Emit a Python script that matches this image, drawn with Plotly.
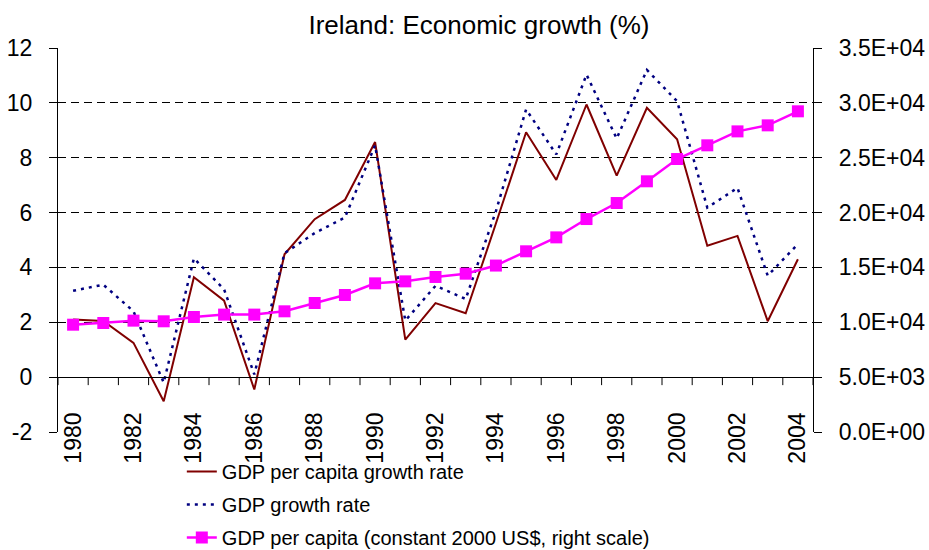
import plotly.graph_objects as go

years = list(range(1980, 2005))
gdp_pc_growth = [2.1, 2.05, 1.25, -0.88, 3.64, 2.79, -0.45, 4.48, 5.76, 6.46, 8.57, 1.37, 2.70,
                 2.33, 5.6, 8.93, 7.19, 9.94, 7.35, 9.82, 8.67, 4.79, 5.15, 2.04, 4.30]
gdp_growth = [3.15, 3.37, 2.4, -0.2, 4.33, 3.2, 0.1, 4.52, 5.25, 5.82, 8.45, 2.06, 3.33,
              2.85, 6.05, 9.76, 8.12, 11.03, 8.7, 11.2, 10.06, 6.18, 6.9, 3.7, 4.85]
gdp_pc = [9780, 9935, 10150, 10090, 10480, 10700, 10700, 11000, 11760, 12490, 13550, 13730,
          14130, 14430, 15170, 16470, 17740, 19410, 20870, 22850, 24880, 26130, 27400, 27950, 29230]

x_tick_vals = list(range(1980, 2005, 2))
x_tick_text = [str(v) for v in x_tick_vals]
# category boundaries (tick marks between years)
x_boundaries = [y - 0.5 for y in years] + [years[-1] + 0.5]
x_range = [years[0] - 0.5, years[-1] + 0.5]
left_tick_vals = [-2, 0, 2, 4, 6, 8, 10, 12]
left_tick_text = ["-2", "0", "2", "4", "6", "8", "10", "12"]
right_tick_vals = [0, 5000, 10000, 15000, 20000, 25000, 30000, 35000]
right_tick_text = ["0.0E+00", "5.0E+03", "1.0E+04", "1.5E+04", "2.0E+04", "2.5E+04", "3.0E+04", "3.5E+04"]

FONT = "Arial, 'Liberation Sans', sans-serif"

fig = go.Figure()
fig.add_trace(go.Scatter(x=years, y=gdp_pc_growth, name="GDP per capita growth rate",
                         mode="lines", line=dict(color="#800000", width=2),
                         legendgroup="a"))
fig.add_trace(go.Scatter(x=years, y=gdp_growth, name="GDP growth rate",
                         mode="lines", line=dict(color="#000080", width=2.5, dash="3px,5px"),
                         legendgroup="b"))
fig.add_trace(go.Scatter(x=years, y=gdp_pc, name="GDP per capita (constant 2000 US$, right scale)",
                         mode="lines+markers", yaxis="y2",
                         line=dict(color="#FF00FF", width=2.5),
                         marker=dict(symbol="square", size=12, color="#FF00FF"),
                         legendgroup="c"))

# category-boundary tick marks hanging below the x axis line (at y = 0)
for b in x_boundaries:
    fig.add_shape(type="line", xref="x", yref="y", x0=b, x1=b,
                  ysizemode="pixel", yanchor=0, y0=0, y1=-8,
                  line=dict(color="black", width=1), layer="above")

fig.update_layout(
    width=929, height=550,
    margin=dict(l=58, r=116, t=48, b=118, autoexpand=False),
    paper_bgcolor="white", plot_bgcolor="white",
    font=dict(family=FONT, color="black", size=20),
    title=dict(text="Ireland: Economic growth (%)", x=479/929, xanchor="center",
               y=1 - 25/550, yanchor="middle", font=dict(size=26, family=FONT, color="black")),
    showlegend=True,
    legend=dict(x=0.164, xanchor="left", y=-0.052, yanchor="top", orientation="v",
                font=dict(size=20, family=FONT, color="black"), bgcolor="rgba(0,0,0,0)",
                tracegroupgap=4, traceorder="grouped"),
    xaxis=dict(range=x_range, anchor="free", position=2/14, automargin=False,
               showline=True, linecolor="black", linewidth=1.3,
               tickmode="array", tickvals=x_tick_vals, ticktext=x_tick_text,
               tickangle=-90, ticks="", tickfont=dict(size=23, family=FONT, color="black"),
               ticklabelstandoff=25, showgrid=False, zeroline=False),
    yaxis=dict(range=[-2, 12], tickmode="array", tickvals=left_tick_vals, ticktext=left_tick_text,
               showline=True, linecolor="black", linewidth=1.3, automargin=False,
               ticks="outside", ticklen=8, tickcolor="black",
               showgrid=True, gridcolor="black", gridwidth=1, griddash="8px,5px",
               zeroline=False, tickfont=dict(size=23, family=FONT, color="black"),
               ticklabelstandoff=12),
    yaxis2=dict(range=[0, 35000], overlaying="y", side="right", anchor="x", automargin=False,
                tickmode="array", tickvals=right_tick_vals, ticktext=right_tick_text,
                showline=True, linecolor="black", linewidth=1.3,
                ticks="outside", ticklen=8, tickcolor="black",
                showgrid=False, zeroline=False,
                tickfont=dict(size=23, family=FONT, color="black"), ticklabelstandoff=12),
)

fig.write_html("out.html", config={"displayModeBar": False},
               post_script="document.body.style.margin='0';")
